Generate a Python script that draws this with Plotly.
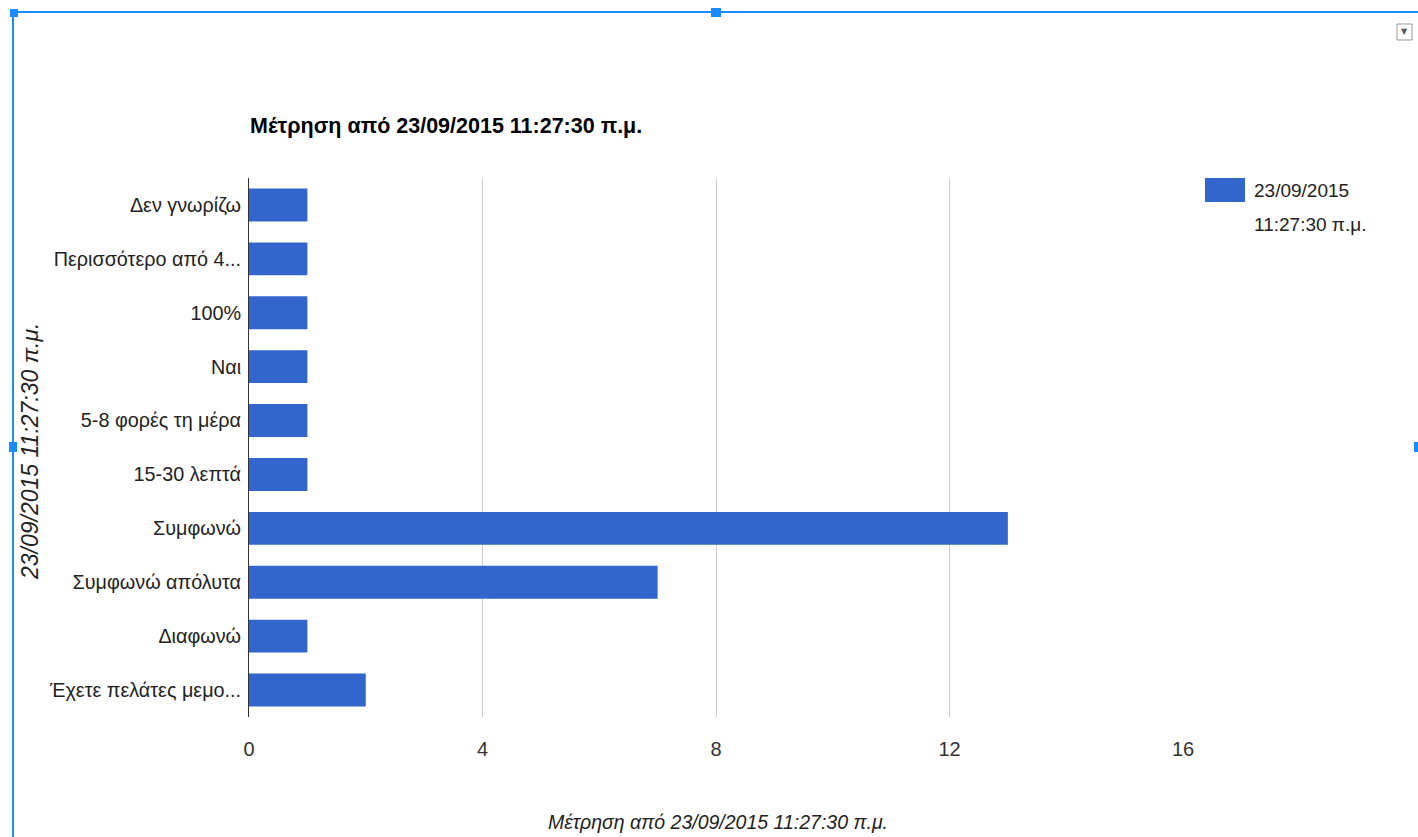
import plotly.graph_objects as go

categories = ["Δεν γνωρίζω", "Περισσότερο από 4...", "100%", "Ναι", "5-8 φορές τη μέρα",
              "15-30 λεπτά", "Συμφωνώ", "Συμφωνώ απόλυτα", "Διαφωνώ", "Έχετε πελάτες μεμο..."]
counts = [1, 1, 1, 1, 1, 1, 13, 7, 1, 2]
x_ticks = [0, 4, 8, 12, 16]
legend_lines = ["23/09/2015", "11:27:30 π.μ."]
title_text = "Μέτρηση από 23/09/2015 11:27:30 π.μ."
y_title = "23/09/2015 11:27:30 π.μ."

W, H = 1418, 837
L, R, T, B = 249, 1183, 178, 717
FONT = "Liberation Sans"

def px(x):
    return (x - L) / (R - L)

def py(y):
    return (B - y) / (B - T)

fig = go.Figure(go.Bar(
    x=counts, y=categories, orientation="h",
    marker=dict(color="#3366cc", line=dict(width=0)),
    showlegend=False, name="23/09/2015 11:27:30 π.μ.",
))

shapes = [
    # legend swatch
    dict(type="rect", xref="paper", yref="paper", x0=px(1205), x1=px(1245), y0=py(202), y1=py(178),
         fillcolor="#3366cc", line=dict(width=0)),
    # selection frame
    dict(type="line", xref="paper", yref="paper", x0=px(10), x1=px(1418), y0=py(12), y1=py(12),
         line=dict(color="#1a8cff", width=2)),
    dict(type="line", xref="paper", yref="paper", x0=px(13), x1=px(13), y0=py(12), y1=py(837),
         line=dict(color="#1a8cff", width=2)),
    dict(type="rect", xref="paper", yref="paper", x0=px(711), x1=px(721), y0=py(17), y1=py(8),
         fillcolor="#1a8cff", line=dict(width=0)),
    dict(type="rect", xref="paper", yref="paper", x0=px(9), x1=px(17), y0=py(452), y1=py(442),
         fillcolor="#1a8cff", line=dict(width=0)),
    dict(type="rect", xref="paper", yref="paper", x0=px(10), x1=px(18), y0=py(17), y1=py(9),
         fillcolor="#1a8cff", line=dict(width=0)),
    dict(type="rect", xref="paper", yref="paper", x0=px(1414), x1=px(1418), y0=py(452), y1=py(442),
         fillcolor="#1a8cff", line=dict(width=0)),
    # dropdown box
    dict(type="rect", xref="paper", yref="paper", x0=px(1397), x1=px(1412), y0=py(40), y1=py(24),
         fillcolor="white", line=dict(color="#999999", width=1)),
]

annotations = [
    dict(text="<b>" + title_text + "</b>", xref="paper", yref="paper", x=px(248), y=py(126),
         xanchor="left", yanchor="middle", showarrow=False,
         font=dict(family=FONT, size=21.5, color="#000000")),
    dict(text=legend_lines[0], xref="paper", yref="paper", x=px(1252), y=py(190),
         xanchor="left", yanchor="middle", showarrow=False,
         font=dict(family=FONT, size=19, color="#222222")),
    dict(text=legend_lines[1], xref="paper", yref="paper", x=px(1252), y=py(224),
         xanchor="left", yanchor="middle", showarrow=False,
         font=dict(family=FONT, size=19, color="#222222")),
    dict(text="<i>" + y_title + "</i>", xref="paper", yref="paper", x=px(30), y=py(451),
         xanchor="center", yanchor="middle", showarrow=False, textangle=-90,
         font=dict(family=FONT, size=23, color="#222222")),
    dict(text="<i>" + title_text + "</i>", xref="paper", yref="paper", x=px(718), y=py(822),
         xanchor="center", yanchor="middle", showarrow=False,
         font=dict(family=FONT, size=19.5, color="#222222")),
    dict(text="▼", xref="paper", yref="paper", x=px(1404.5), y=py(32),
         xanchor="center", yanchor="middle", showarrow=False,
         font=dict(family="DejaVu Sans", size=8, color="#555555")),
]

fig.update_layout(
    width=W, height=H,
    margin=dict(l=L, r=W - R, t=T, b=H - B, pad=0),
    paper_bgcolor="white", plot_bgcolor="white",
    bargap=0.39,
    shapes=shapes, annotations=annotations,
    font=dict(family=FONT, size=19, color="#222222"),
    xaxis=dict(range=[0, 16], tickvals=x_ticks, showgrid=True, gridcolor="#cccccc", gridwidth=1,
               zeroline=False, showline=False, ticks="", ticklabelstandoff=18,
               tickfont=dict(family=FONT, size=20, color="#333333")),
    yaxis=dict(autorange="reversed", showgrid=False, showline=True, linecolor="#333333", linewidth=1,
               ticks="", ticklabelstandoff=3, zeroline=False,
               tickfont=dict(family=FONT, size=19.8, color="#222222")),
)

fig.write_html("out.html")
